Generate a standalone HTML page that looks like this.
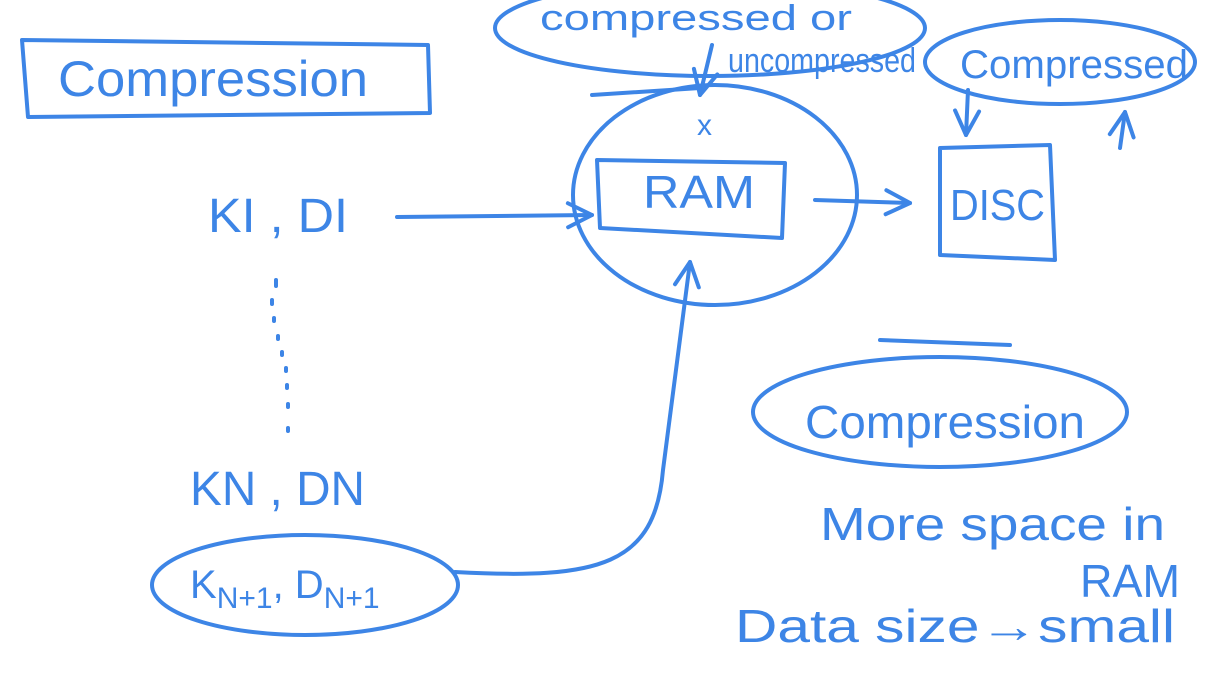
<!DOCTYPE html>
<html><head><meta charset="utf-8"><style>
html,body{margin:0;padding:0;background:#fff;width:1214px;height:680px;overflow:hidden}
svg{display:block}
text{font-family:"Liberation Sans",sans-serif;fill:#3d85e6}
</style></head><body>
<svg width="1214" height="680" viewBox="0 0 1214 680" fill="none" stroke="#3d85e6" stroke-width="4" stroke-linecap="round" stroke-linejoin="round">
<defs><marker id="a" markerWidth="8" markerHeight="8" refX="7" refY="4" orient="auto" markerUnits="strokeWidth"><path d="M1,1 L7,4 L1,7" stroke="#3d85e6" stroke-width="1" fill="none"/></marker></defs>
<path d="M22,40 L428,45 L430,113 L28,117 Z"/>
<text x="58" y="96" font-size="50" stroke="none" textLength="310" lengthAdjust="spacingAndGlyphs">Compression</text>
<ellipse cx="710" cy="28" rx="215" ry="48"/>
<text x="540" y="30" font-size="36" stroke="none" textLength="312" lengthAdjust="spacingAndGlyphs">compressed or</text>
<text x="728" y="72" font-size="34" stroke="none" textLength="188" lengthAdjust="spacingAndGlyphs">uncompressed</text>
<path d="M712,45 L700,95" marker-end="url(#a)"/>
<path d="M592,95 L700,88"/>
<text x="697" y="135" font-size="30" stroke="none">x</text>
<ellipse cx="715" cy="195" rx="142" ry="110"/>
<path d="M597,160 L785,163 L782,238 L600,228 Z"/>
<text x="643" y="208" font-size="46" stroke="none" textLength="112" lengthAdjust="spacingAndGlyphs">RAM</text>
<path d="M397,217 L592,215" marker-end="url(#a)"/>
<path d="M815,200 L910,203" marker-end="url(#a)"/>
<path d="M940,148 L1050,145 L1055,260 L940,255 Z"/>
<text x="950" y="220" font-size="44" stroke="none" textLength="95" lengthAdjust="spacingAndGlyphs">DISC</text>
<ellipse cx="1060" cy="62" rx="135" ry="42"/>
<text x="960" y="78" font-size="40" stroke="none" textLength="228" lengthAdjust="spacingAndGlyphs">Compressed</text>
<path d="M968,90 L966,135" marker-end="url(#a)"/>
<path d="M1120,148 L1125,112" marker-end="url(#a)"/>
<text x="208" y="232" font-size="48" stroke="none" textLength="140" lengthAdjust="spacingAndGlyphs">KI , DI</text>
<path d="M276,280 l0,6 M272,300 l0,4 M274,318 l0,3 M278,336 l0,3 M282,352 l0,3 M286,368 l0,3 M287,385 l0,3 M288,404 l0,3 M288,428 l0,3"/>
<text x="190" y="505" font-size="48" stroke="none" textLength="175" lengthAdjust="spacingAndGlyphs">KN , DN</text>
<ellipse cx="305" cy="585" rx="153" ry="50"/>
<text x="190" y="598" font-size="40" stroke="none">K<tspan font-size="30" dy="10">N+1</tspan><tspan dy="-10">, D</tspan><tspan font-size="30" dy="10">N+1</tspan></text>
<path d="M455,572 C600,580 655,565 663,470 L690,262" marker-end="url(#a)"/>
<path d="M880,340 L1010,345"/>
<ellipse cx="940" cy="412" rx="187" ry="55"/>
<text x="805" y="438" font-size="46" stroke="none" textLength="280" lengthAdjust="spacingAndGlyphs">Compression</text>
<text x="820" y="540" font-size="46" stroke="none" textLength="345" lengthAdjust="spacingAndGlyphs">More space in</text>
<text x="1080" y="597" font-size="46" stroke="none" textLength="100" lengthAdjust="spacingAndGlyphs">RAM</text>
<text x="735" y="642" font-size="46" stroke="none" textLength="440" lengthAdjust="spacingAndGlyphs">Data size→small</text>
</svg>
</body></html>
